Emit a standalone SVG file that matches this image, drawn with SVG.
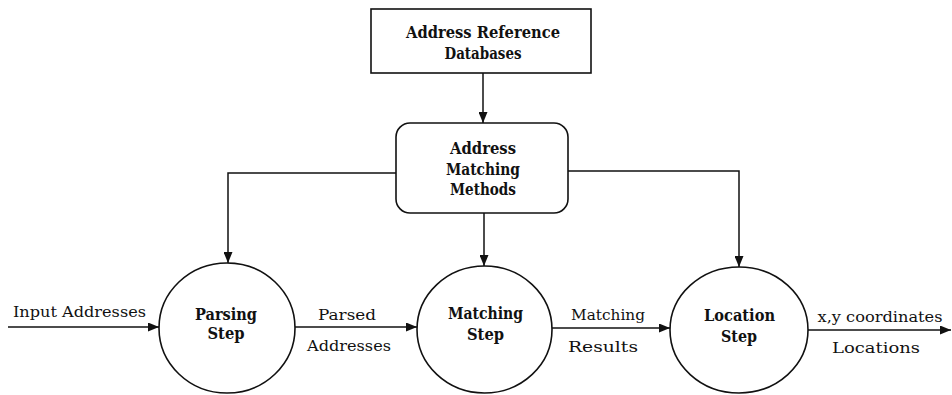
<svg xmlns="http://www.w3.org/2000/svg" width="952" height="395" viewBox="0 0 952 395">
  <style>
    .shape { fill: #fff; stroke: #111; stroke-width: 1.6; }
    .conn { fill: none; stroke: #111; stroke-width: 1.5; }
    .title { font-family: "DejaVu Serif", "Liberation Serif", serif; font-weight: bold; font-size: 16px; fill: #111; text-anchor: middle; }
    .label { font-family: "DejaVu Serif", "Liberation Serif", serif; font-size: 15px; fill: #111; }
    .mid { text-anchor: middle; }
  </style>
  <defs>
    <marker id="arrow" markerUnits="userSpaceOnUse" markerWidth="11" markerHeight="9" refX="11" refY="4.5" orient="auto">
      <path d="M0,0 L11,4.5 L0,9 Z" fill="#111"/>
    </marker>
  </defs>

  <rect width="952" height="395" fill="#fff"/>

  <!-- data flows -->
  <g id="connectors">
    <path class="conn" d="M483,73 V123" marker-end="url(#arrow)"/>
    <path class="conn" d="M396,173 H228 V263" marker-end="url(#arrow)"/>
    <path class="conn" d="M484,213 V266" marker-end="url(#arrow)"/>
    <path class="conn" d="M568,171 H739 V267" marker-end="url(#arrow)"/>
    <path class="conn" d="M8,327 H159" marker-end="url(#arrow)"/>
    <path class="conn" d="M295,327 H417" marker-end="url(#arrow)"/>
    <path class="conn" d="M552,328 H670" marker-end="url(#arrow)"/>
    <path class="conn" d="M808,330 H951" marker-end="url(#arrow)"/>
    <text class="label" x="13" y="317" textLength="133" lengthAdjust="spacingAndGlyphs">Input Addresses</text>
    <text class="label mid" x="347" y="320" textLength="58" lengthAdjust="spacingAndGlyphs">Parsed</text>
    <text class="label mid" x="349" y="351" textLength="84" lengthAdjust="spacingAndGlyphs">Addresses</text>
    <text class="label mid" x="608" y="320" textLength="74" lengthAdjust="spacingAndGlyphs">Matching</text>
    <text class="label mid" x="603" y="352" textLength="70" lengthAdjust="spacingAndGlyphs">Results</text>
    <text class="label mid" x="880" y="322" textLength="125" lengthAdjust="spacingAndGlyphs">x,y coordinates</text>
    <text class="label mid" x="876" y="353" textLength="88" lengthAdjust="spacingAndGlyphs">Locations</text>
  </g>

  <g id="reference-databases">
    <rect class="shape" x="371" y="9" width="220" height="64"/>
    <text class="title" x="483" y="38" textLength="154" lengthAdjust="spacingAndGlyphs">Address Reference</text>
    <text class="title" x="483" y="59" textLength="77" lengthAdjust="spacingAndGlyphs">Databases</text>
  </g>

  <g id="matching-methods">
    <rect class="shape" x="396" y="123" width="172" height="90" rx="14" ry="14"/>
    <text class="title" x="483" y="154" textLength="66" lengthAdjust="spacingAndGlyphs">Address</text>
    <text class="title" x="483" y="175" textLength="74" lengthAdjust="spacingAndGlyphs">Matching</text>
    <text class="title" x="483" y="195" textLength="66" lengthAdjust="spacingAndGlyphs">Methods</text>
  </g>

  <g id="parsing-step">
    <ellipse class="shape" cx="227" cy="328" rx="68" ry="65"/>
    <text class="title" x="226" y="320" textLength="62" lengthAdjust="spacingAndGlyphs">Parsing</text>
    <text class="title" x="226" y="339" textLength="37" lengthAdjust="spacingAndGlyphs">Step</text>
  </g>

  <g id="matching-step">
    <ellipse class="shape" cx="484.5" cy="329.5" rx="67.5" ry="63.5"/>
    <text class="title" x="485.5" y="319" textLength="75" lengthAdjust="spacingAndGlyphs">Matching</text>
    <text class="title" x="485.5" y="340" textLength="37" lengthAdjust="spacingAndGlyphs">Step</text>
  </g>

  <g id="location-step">
    <ellipse class="shape" cx="739" cy="330" rx="69" ry="63"/>
    <text class="title" x="739.5" y="321" textLength="71" lengthAdjust="spacingAndGlyphs">Location</text>
    <text class="title" x="739" y="342" textLength="36" lengthAdjust="spacingAndGlyphs">Step</text>
  </g>
</svg>
